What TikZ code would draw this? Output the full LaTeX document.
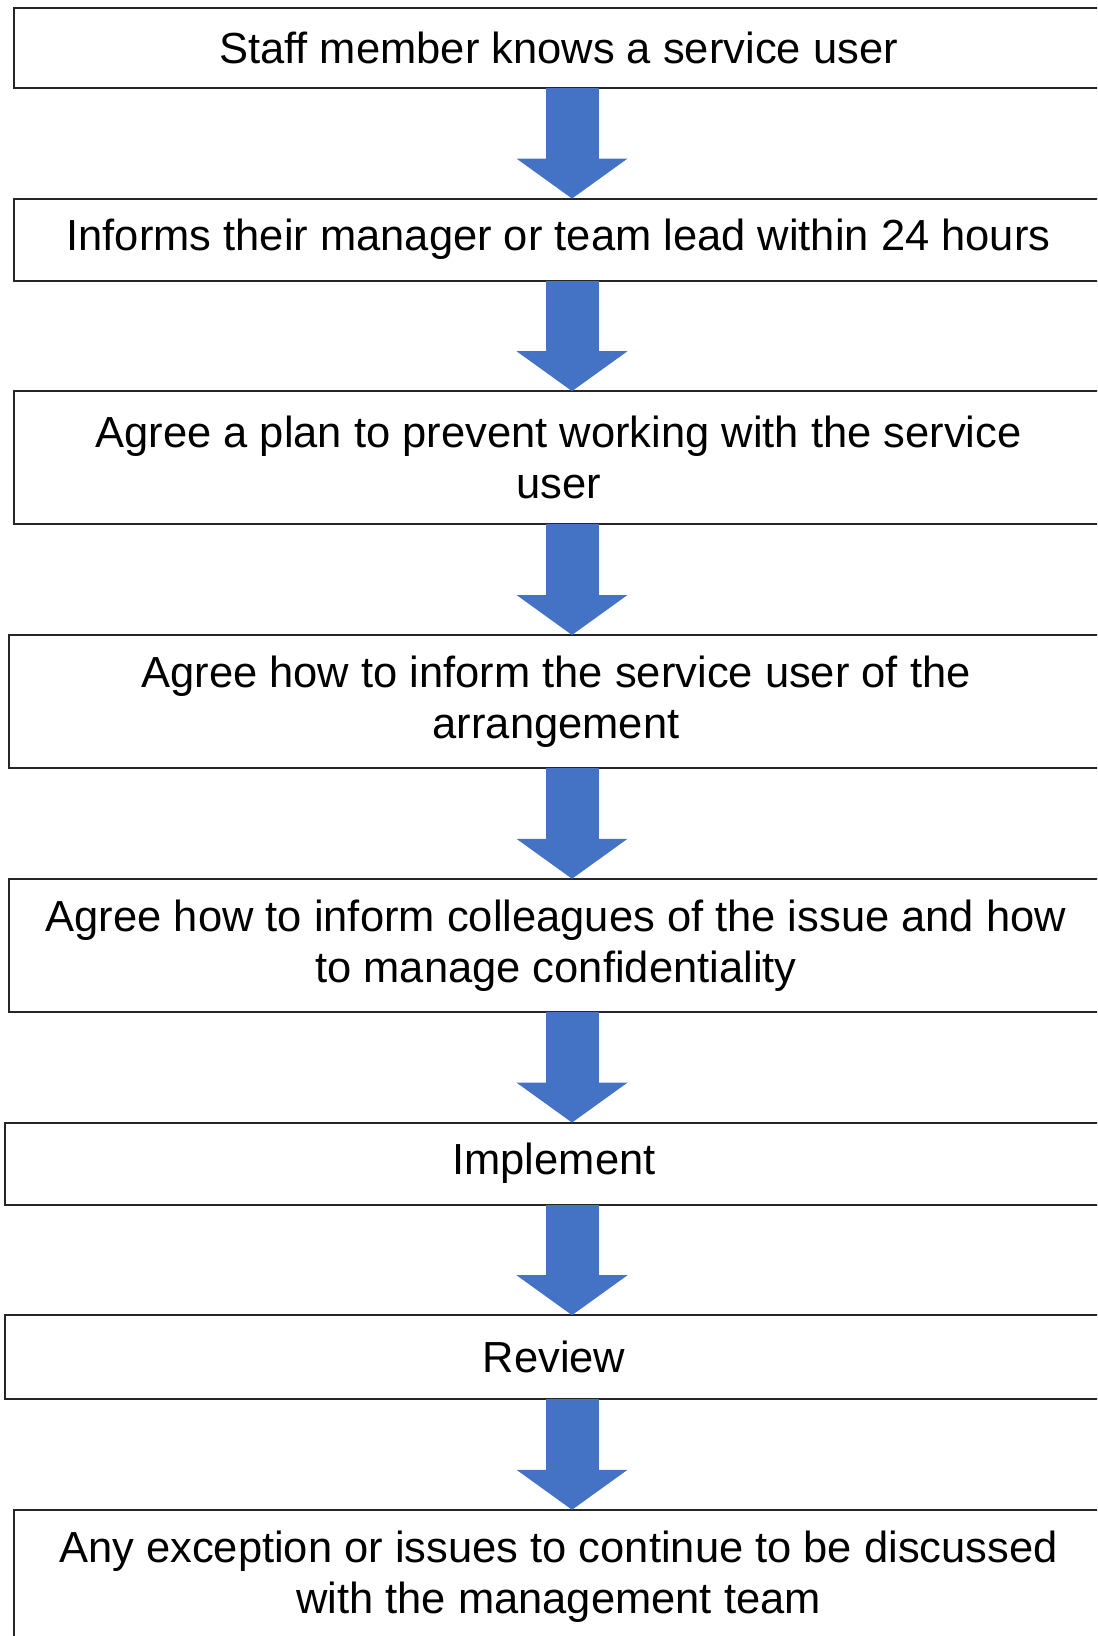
\documentclass[tikz,border=0pt]{standalone}
\usepackage{fontspec}
\setmainfont{Liberation Sans}
\usepackage{xcolor}
\usepackage{tikz}
\usetikzlibrary{arrows.meta, positioning}
\definecolor{flowblue}{HTML}{4472C4}
\tikzset{
    flowchart/.style={font=\fontsize{21.75pt}{25.5pt}\selectfont, node distance=55.3pt},
    stepbox/.style={draw=black!85, line width=1pt, align=center, inner sep=0pt, outer sep=0pt},
    oneline/.style={minimum height=41pt},
    twoline/.style={minimum height=66.6pt},
    % fat block arrow between two steps
    flow/.style={draw=flowblue, line width=26.5pt, -{Triangle[width=54.5pt, length=20pt]}},
}

\begin{document}
\begin{tikzpicture}[flowchart]
    \useasboundingbox (0,0) rectangle (548.5pt,-818pt);
    \clip (0,0) rectangle (548.5pt,-818pt);

    \node[stepbox, minimum width=544.5pt, minimum height=40pt, anchor=north west]
        (know) at (7pt,-4pt) {Staff member knows a service user};
    \node[stepbox, oneline, minimum width=544.5pt, below=of know.south east, anchor=north east]
        (inform) {Informs their manager or team lead within 24 hours};
    \node[stepbox, twoline, minimum width=544.5pt, below=of inform.south east, anchor=north east]
        (plan) {Agree a plan to prevent working with the service\\user};
    \node[stepbox, twoline, minimum width=547pt, below=of plan.south east, anchor=north east]
        (tell) {Agree how to inform the service user of the\\arrangement};
    \node[stepbox, twoline, minimum width=547pt, below=of tell.south east, anchor=north east]
        (colleagues) {Agree how to inform colleagues of the issue and how\\to manage confidentiality};
    \node[stepbox, oneline, minimum width=549pt, below=of colleagues.south east, anchor=north east]
        (implement) {Implement};
    \node[stepbox, oneline, minimum width=549pt, minimum height=42pt, below=of implement.south east, anchor=north east]
        (review) {Review};
    \node[stepbox, twoline, minimum width=544.5pt, minimum height=67pt, below=of review.south east, anchor=north east]
        (issues) {Any exception or issues to continue to be discussed\\with the management team};

    \coordinate (ax) at (286pt,0);
    \foreach \a/\b in {know/inform, inform/plan, plan/tell, tell/colleagues,
                       colleagues/implement, implement/review, review/issues}
        \draw[flow] (\a.south -| ax) -- (\b.north -| ax);
\end{tikzpicture}
\end{document}
